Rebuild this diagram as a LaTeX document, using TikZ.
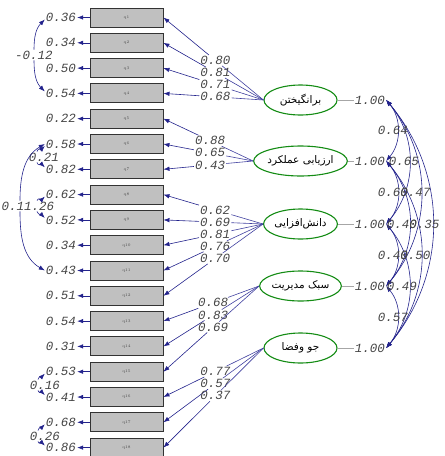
\documentclass[tikz,border=0pt]{standalone}
\usepackage{fontspec}
\setmonofont{Liberation Mono}
\newfontfamily\fa[Script=Arabic]{DejaVu Sans}
\TeXXeTstate=1
\usetikzlibrary{arrows.meta,shapes.geometric}
\definecolor{navy}{RGB}{35,35,140}
\definecolor{lnavy}{RGB}{65,65,160}
\definecolor{lgreen}{RGB}{20,140,20}
\definecolor{txt}{RGB}{70,70,70}
\definecolor{boxg}{RGB}{192,192,192}
\begin{document}
\begin{tikzpicture}[x=1pt,y=1pt,
 obs/.style={draw=black!80, fill=boxg, line width=0.9pt, minimum width=73pt, minimum height=19pt, inner sep=0pt, font=\fontsize{4}{4}\selectfont, text=black!70},
 lat/.style={ellipse, draw=lgreen, line width=1.1pt, fill=white, minimum width=73pt, minimum height=30pt, inner sep=0pt, font=\fontsize{10.5}{11}\selectfont\fa},
 val/.style={font=\fontsize{12.5}{13}\selectfont\ttfamily\itshape, text=txt, inner sep=1pt},
 arr/.style={draw=navy, line width=0.6pt, -{Latex[length=6pt,width=4.5pt]}},
 biarr/.style={draw=navy, line width=0.6pt, {Latex[length=6pt,width=4.5pt]}-{Latex[length=6pt,width=4.5pt]}},
 ln/.style={draw=lnavy, line width=0.6pt},
 larr/.style={draw=lnavy, line width=0.6pt, -{Latex[length=6pt,width=4.5pt]}, navy},
 one/.style={draw=gray!70, line width=0.6pt}
]
\useasboundingbox (0,0) rectangle (445,-456);

% observed variables and error variances
\foreach \i/\v in {1/0.36,2/0.34,3/0.50,4/0.54,5/0.22,6/0.58,7/0.82,8/0.62,9/0.52,10/0.34,11/0.43,12/0.51,13/0.54,14/0.31,15/0.53,16/0.41,17/0.68,18/0.86}{
  \pgfmathsetmacro\yy{-(17.5+25.3*(\i-1))}
  \node[obs] (x\i) at (126.5,\yy) {q\i};
  \node[val] (e\i) at (61,\yy) {\v};
  \draw[arr] (x\i) -- (e\i);
}

% latent variables
\node[lat] (L1) at (300.5,-100) {\beginR برانگیختن\endR};
\node[lat] (L2) at (300.5,-161) {\beginR ارزیابی عملکرد\endR};
\node[lat] (L3) at (300.5,-224) {\beginR دانش‌افزایی\endR};
\node[lat] (L4) at (300.5,-286) {\beginR سبک مدیریت\endR};
\node[lat] (L5) at (300.5,-348) {\beginR جو وفضا\endR};
\foreach \m in {1,...,5}{
  \node[val] (o\m) at (370,0 |- L\m) {1.00};
  \draw[one] (L\m) -- (o\m);
}

% loadings
\foreach \m/\i/\v in {1/1/0.80,1/2/0.81,1/3/0.71,1/4/0.68,2/5/0.88,2/6/0.65,2/7/0.43,3/8/0.62,3/9/0.69,3/10/0.81,3/11/0.76,3/12/0.70,4/13/0.68,4/14/0.83,4/15/0.69,5/16/0.77,5/17/0.57,5/18/0.37}{
  \path (L\m.west) -- (x\i.east) node[val,pos=0.48] (l\i) {\v};
  \draw[ln] (L\m.west) -- (l\i);
  \draw[arr] (l\i) -- (x\i.east);
}

% latent covariances
\foreach \a/\b in {1/2,1/3,1/4,1/5,2/3,2/4,2/5,3/4,3/5,4/5}{
  \draw[biarr] (o\a.east) to[out=-50,in=50] (o\b.east);
}
\node[val] (r12) at (393,-130) {0.64};
\node[val] (r13) at (404,-161) {0.65};
\node[val] (r23) at (393,-192) {0.60};
\node[val] (r14) at (415.5,-192) {0.47};
\node[val] (r24) at (402,-224) {0.40};
\node[val] (r15) at (424.5,-224) {0.35};
\node[val] (r34) at (393,-255) {0.40};
\node[val] (r25) at (415.5,-255) {0.50};
\node[val] (r35) at (402,-286) {0.49};
\node[val] (r45) at (393,-317) {0.57};

% error covariances
\node[val] (c1) at (34,-55) {-0.12};
\node[val] (c2) at (44,-157) {0.21};
\node[val] (c3) at (28,-206) {0.11.26};
\node[val] (c4) at (45,-385) {0.16};
\node[val] (c5) at (45,-436) {0.26};
\draw[arr] (c1.north) to[out=90,in=225] ([yshift=-2pt]e1.west);
\draw[arr] (c1.south) to[out=-90,in=135] ([yshift=2pt]e4.west);
\draw[arr] ([xshift=-7pt]c2.north) to[out=80,in=225] ([yshift=-2pt]e6.west);
\draw[arr] ([xshift=-7pt]c2.south) to[out=-80,in=135] ([yshift=2pt]e7.west);
\draw[arr] ([xshift=-8pt]c3.north) to[out=90,in=210] (e6.west);
\draw[arr] ([xshift=-8pt]c3.south) to[out=-90,in=150] (e11.west);
\draw[arr] ([xshift=9pt]c3.north) to[out=70,in=225] ([yshift=-2pt]e8.west);
\draw[arr] ([xshift=9pt]c3.south) to[out=-70,in=135] ([yshift=2pt]e9.west);
\draw[arr] ([xshift=-7pt]c4.north) to[out=80,in=225] ([yshift=-2pt]e15.west);
\draw[arr] ([xshift=-7pt]c4.south) to[out=-80,in=135] ([yshift=2pt]e16.west);
\draw[arr] ([xshift=-7pt]c5.north) to[out=80,in=225] ([yshift=-2pt]e17.west);
\draw[arr] ([xshift=-7pt]c5.south) to[out=-80,in=135] ([yshift=2pt]e18.west);
\end{tikzpicture}
\end{document}
